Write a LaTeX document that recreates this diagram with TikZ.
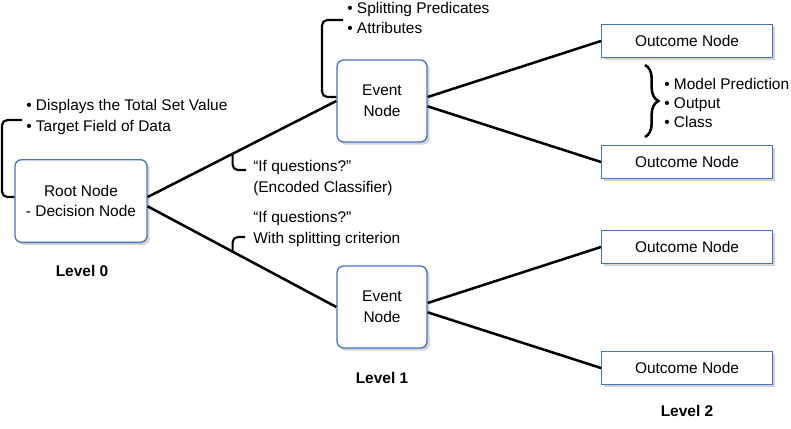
\documentclass[tikz,border=0pt]{standalone}
\usepackage{fontspec}
\setmainfont{Liberation Sans}
\usetikzlibrary{shadows,decorations.pathreplacing}
\definecolor{boxblue}{HTML}{4A70C0}
\begin{document}
\begin{tikzpicture}[x=0.75pt,y=-0.75pt,
  font=\fontsize{11.6}{15.5}\selectfont,
  box/.style={draw=boxblue, line width=1pt, fill=white, align=center, inner sep=2pt,
    drop shadow={opacity=0.35, shadow xshift=2pt, shadow yshift=-2pt}},
  rootbox/.style={box, rounded corners=5pt, minimum width=99pt, minimum height=62pt},
  eventbox/.style={box, rounded corners=5pt, minimum width=67.5pt, minimum height=61.5pt},
  outbox/.style={box, minimum width=128pt, minimum height=25pt},
  link/.style={line width=1.9pt},
  bracket/.style={line width=1.6pt, rounded corners=4pt},
  note/.style={align=left, anchor=west, inner sep=0pt},
  level/.style={font=\fontsize{11.6}{14}\selectfont\bfseries}]
\useasboundingbox (0,0) rectangle (791,428);
% Boxes
\node[rootbox] (root) at (81,201) {Root Node\\- Decision Node};
\node[eventbox] (evA) at (382,101) {Event\\Node};
\node[eventbox] (evB) at (382,307) {Event\\Node};
\node[outbox] (outA) at (687,41) {Outcome Node};
\node[outbox] (outB) at (687,162) {Outcome Node};
\node[outbox] (outC) at (687,247) {Outcome Node};
\node[outbox] (outD) at (687,368) {Outcome Node};
% Branches
\draw[link] ([yshift=3pt]root.east) -- coordinate[pos=0.45] (qA) (evA.west);
\draw[link] ([yshift=-4pt]root.east) -- coordinate[pos=0.45] (qB) (evB.west);
\draw[link] ([yshift=3pt]evA.east) -- (outA.west);
\draw[link] ([yshift=-4pt]evA.east) -- (outB.west);
\draw[link] ([yshift=3pt]evB.east) -- (outC.west);
\draw[link] ([yshift=-4pt]evB.east) -- (outD.west);
% Side notes
\draw[bracket] ([yshift=3pt]root.west) -- (2,197) -- (2,120) -- (22,120);
\node[note] (rootnote) at (26,117) {\textbullet\ Displays the Total Set Value\\\textbullet\ Target Field of Data};
\draw[bracket] ([yshift=3pt]evA.west) -- (322,97) -- (322,20) -- (343,20);
\node[note] (evAnote) at (347,18) {\textbullet\ Splitting Predicates\\\textbullet\ Attributes};
\draw[bracket] (qA) |- (246,170);
\node[note] (qAnote) at (253,178) {“If questions?”\\(Encoded Classifier)};
\draw[bracket] (qB) |- (245,237);
\node[note] (qBnote) at (253,229) {“If questions?”\\With splitting criterion};
\draw[line width=1.9pt, decorate, decoration={brace, amplitude=10pt}] (645,65) -- (645,137);
\node[note, font=\fontsize{11.6}{14.5}\selectfont] (outnote) at (664,103) {\textbullet\ Model Prediction\\\textbullet\ Output\\\textbullet\ Class};
% Levels
\node[level] (lev0) at (82,271) {Level 0};
\node[level] (lev1) at (382,378) {Level 1};
\node[level] (lev2) at (687,411) {Level 2};
\end{tikzpicture}
\end{document}
